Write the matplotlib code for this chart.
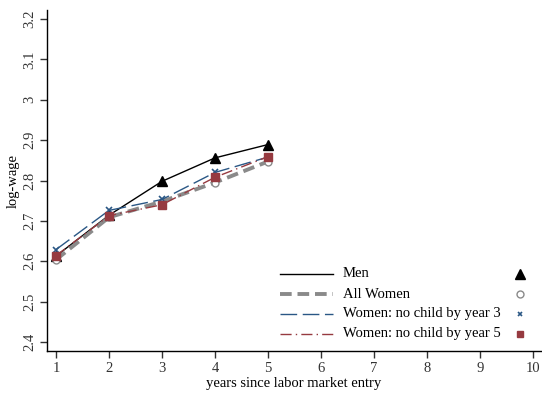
import matplotlib
matplotlib.use("Agg")
import matplotlib.pyplot as plt
from matplotlib.lines import Line2D

years = [1, 2, 3, 4, 5]
men = [2.613, 2.714, 2.798, 2.856, 2.889]
all_women = [2.604, 2.709, 2.748, 2.795, 2.847]
no_child_3 = [2.629, 2.726, 2.753, 2.820, 2.858]
no_child_5 = [2.614, 2.713, 2.740, 2.808, 2.859]
labels = ["Men", "All Women", "Women: no child by year 3", "Women: no child by year 5"]
xticks = list(range(1, 11))
yticks = [2.4, 2.5, 2.6, 2.7, 2.8, 2.9, 3.0, 3.1, 3.2]
yticklabels = ["2.4", "2.5", "2.6", "2.7", "2.8", "2.9", "3", "3.1", "3.2"]

plt.rcParams['font.family'] = ['Liberation Serif', 'DejaVu Serif']

fig = plt.figure(figsize=(5.42, 3.94), dpi=100)
ax = fig.add_axes([47/542, (394-351)/394, 494/542, 341/394])

gray = '#8a8a8a'
blue = '#2a5785'
red = '#963a40'

ax.plot(years, men, color='black', lw=1.0, ls='-', marker='^', ms=6.5, zorder=1)
ax.plot(years, all_women, color=gray, lw=2.8, ls=(0, (3, 1.5)), marker='o',
        mfc='white', mec=gray, ms=5, mew=1.0, zorder=2)
ax.plot(years, no_child_3, color=blue, lw=1.0, ls=(0, (12, 4)), marker='x',
        ms=4, mew=1.2, zorder=3)
ax.plot(years, no_child_5, color=red, lw=1.0, ls=(0, (8, 3, 1, 3)), marker='s',
        mfc=red, mec=red, ms=5.5, zorder=4)

ax.set_xlim(0.83, 10.15)
ax.set_ylim(2.378, 3.222)
ax.set_xticks(xticks)
ax.set_yticks(yticks)
ax.set_yticklabels(yticklabels, rotation=90, va='center')
ax.tick_params(axis='both', direction='out', length=5, width=1, labelsize=10.5, colors='#333333')
ax.tick_params(axis='x', pad=3)
ax.tick_params(axis='y', pad=3)
for s in ['top', 'right']:
    ax.spines[s].set_visible(False)
for s in ['left', 'bottom']:
    ax.spines[s].set_linewidth(1.0)
ax.set_xlabel("years since labor market entry", fontsize=10.5, labelpad=1)
ax.set_ylabel("log-wage", fontsize=10.5, labelpad=2)

# custom legend (Stata style)
rows_y = [0.226, 0.167, 0.109, 0.050]
styles = [
    dict(color='black', lw=1.0, ls='-'),
    dict(color=gray, lw=2.8, ls=(0, (3, 1.5))),
    dict(color=blue, lw=1.0, ls=(0, (12, 4))),
    dict(color=red, lw=1.0, ls=(0, (8, 3, 1, 3))),
]
mks = [
    dict(marker='^', color='black', ms=7),
    dict(marker='o', mfc='white', mec=gray, ms=5, mew=1.0),
    dict(marker='x', color=blue, ms=3.5, mew=1.2),
    dict(marker='s', color=red, ms=5),
]
for yy, lab, st, mk in zip(rows_y, labels, styles, mks):
    ax.add_line(Line2D([0.472, 0.579], [yy, yy], transform=ax.transAxes, clip_on=False, **st))
    ax.text(0.599, yy, lab, transform=ax.transAxes, va='center', ha='left', fontsize=10.5)
    ax.add_line(Line2D([0.957], [yy], transform=ax.transAxes, ls='none', clip_on=False, **mk))

fig.savefig("out.png", dpi=100)
